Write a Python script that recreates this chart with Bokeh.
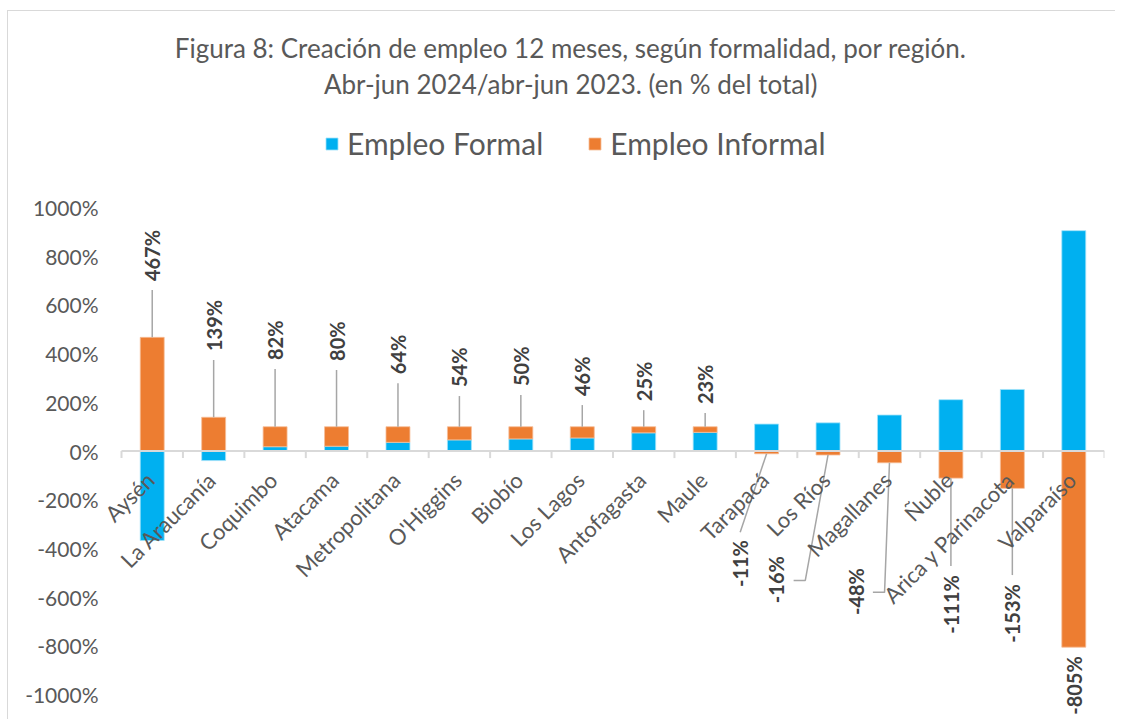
from bokeh.plotting import figure
from bokeh.models import (Range1d, FixedTicker, PrintfTickFormatter, Legend,
                          LegendItem, ColumnDataSource, Label, LabelSet, InlineStyleSheet)
from bokeh.embed import file_html
from bokeh.resources import INLINE
from bokeh.core.properties import value
import math

# ---------------- data ----------------
regions = ["Aysén", "La Araucanía", "Coquimbo", "Atacama", "Metropolitana", "O'Higgins",
           "Biobío", "Los Lagos", "Antofagasta", "Maule", "Tarapacá", "Los Ríos",
           "Magallanes", "Ñuble", "Arica y Parinacota", "Valparaíso"]
informal = [467, 139, 82, 80, 64, 54, 50, 46, 25, 23, -11, -16, -48, -111, -153, -805]
formal = [-367, -39, 18, 20, 36, 46, 50, 54, 75, 77, 111, 116, 148, 211, 253, 905]
y_ticks = [-1000, -800, -600, -400, -200, 0, 200, 400, 600, 800, 1000]

title1 = "Figura 8: Creación de empleo 12 meses, según formalidad, por región."
title2 = "Abr-jun 2024/abr-jun 2023. (en % del total)"

# data-label placement (near end of each label, in axis units) and leader style
label_y = [698, 411, 374, 370, 316, 263, 267, 226, 205, 193, -365, -431, -480, -509, -546, -842]
label_dx = [0, 0, 0, 0, 0, 0, 0, 0, 0, 0, -0.43, -0.84, -0.55, 0, 0, 0]
leader = ["v", "v", "v", "v", "v", "v", "v", "v", "v", "v", "s", "e", "e", "v", "v", "none"]

BLUE = "#00B0F0"
ORANGE = "#ED7D31"
TXT = "#595959"
LBL = "#404040"
FONT = "Lato"

n = len(regions)
xc = [i + 0.5 for i in range(n)]

# Excel-style stacking: positives up from 0, negatives down from 0
f_bot = [min(f, 0) for f in formal]
f_top = [max(f, 0) for f in formal]
i_bot, i_top = [], []
for f, v in zip(formal, informal):
    if v >= 0:
        b = max(f, 0)
        i_bot.append(b); i_top.append(b + v)
    else:
        t = min(f, 0)
        i_top.append(t); i_bot.append(t + v)

PX = 983 / n  # pixels per category
p = figure(width=1115, height=719, output_backend="svg", toolbar_location=None,
           x_range=Range1d(-21 / PX, n), y_range=Range1d(-1102, 1850),
           x_axis_location=None, min_border_left=100, min_border_right=11,
           min_border_top=0, min_border_bottom=0)
p.outline_line_color = None
p.grid.visible = False
p.background_fill_color = "white"
p.border_fill_color = "white"
p.stylesheets = [InlineStyleSheet(css=""":host::after { content: ""; position: absolute;
  left: 7px; top: 10px; right: 0; bottom: 0; border-left: 1.5px solid #D9D9D9;
  border-top: 1.5px solid #D9D9D9; pointer-events: none; }""")]

yax = p.yaxis[0]
yax.ticker = FixedTicker(ticks=y_ticks)
yax.formatter = PrintfTickFormatter(format="%d%%")
yax.axis_line_color = None
yax.major_tick_line_color = None
yax.minor_tick_line_color = None
yax.major_tick_in = 0
yax.major_tick_out = 0
yax.major_label_standoff = 2
yax.major_label_text_font = FONT
yax.major_label_text_font_size = "21px"
yax.major_label_text_color = TXT

src = ColumnDataSource(dict(x=xc, fb=f_bot, ft=f_top, ib=i_bot, it=i_top))
rf = p.vbar(x="x", bottom="fb", top="ft", width=0.39, source=src,
            fill_color=BLUE, line_color="#9FE2FA", line_width=0.8)
ri = p.vbar(x="x", bottom="ib", top="it", width=0.39, source=src,
            fill_color=ORANGE, line_color="#F6BE98", line_width=0.8)

# category axis line at 0 and boundary ticks
p.segment(x0=[0], x1=[n], y0=[0], y1=[0], line_color="#D9D9D9", line_width=2)
tick_len = 7 / 0.2435
p.segment(x0=list(range(n + 1)), x1=list(range(n + 1)), y0=[0] * (n + 1),
          y1=[-tick_len] * (n + 1), line_color="#D9D9D9", line_width=2)

# category labels, rotated 45 degrees
cat_src = ColumnDataSource(dict(x=xc, y=[0] * n, t=regions))
p.add_layout(LabelSet(x="x", y="y", text="t", source=cat_src, angle=math.pi / 4,
                      text_align="right", text_baseline="middle", x_offset=-2, y_offset=-25,
                      text_font=value(FONT), text_font_size=value("22px"), text_color=TXT))

# data labels and leader lines
gap = 37
LX, LY = [], []
pos_x, pos_y, pos_t = [], [], []
neg_x, neg_y, neg_t = [], [], []
for i in range(n):
    lx = xc[i] + label_dx[i]
    txt = f"{informal[i]}%"
    if informal[i] >= 0:
        pos_x.append(lx); pos_y.append(label_y[i]); pos_t.append(txt)
        if leader[i] == "v":
            LX.append([xc[i], lx]); LY.append([i_top[i], label_y[i] - gap])
    else:
        neg_x.append(lx); neg_y.append(label_y[i]); neg_t.append(txt)
        end = i_bot[i]
        if leader[i] == "v":
            LX.append([xc[i], lx]); LY.append([end, label_y[i] + gap])
        elif leader[i] == "s":
            LX.append([xc[i], lx]); LY.append([end, label_y[i] + 32])
        elif leader[i] == "e":
            mid = label_y[i] - 100
            LX.append([xc[i], lx + 0.47, lx + 0.28]); LY.append([end, mid, mid])

p.multi_line(xs=LX, ys=LY, line_color="#A6A6A6", line_width=1.5)
p.add_layout(LabelSet(x="x", y="y", text="t", source=ColumnDataSource(dict(x=pos_x, y=pos_y, t=pos_t)),
                      angle=math.pi / 2, text_align="left", text_baseline="middle",
                      text_font=value(FONT), text_font_style="bold", text_font_size=value("20px"),
                      text_color=LBL))
p.add_layout(LabelSet(x="x", y="y", text="t", source=ColumnDataSource(dict(x=neg_x, y=neg_y, t=neg_t)),
                      angle=math.pi / 2, text_align="right", text_baseline="middle",
                      text_font=value(FONT), text_font_style="bold", text_font_size=value("20px"),
                      text_color=LBL))

# title
p.add_layout(Label(x=7.31, y=1657, text=title1, text_align="center", text_baseline="middle",
                   text_font=FONT, text_font_size="26px", text_color=TXT))
p.add_layout(Label(x=7.31, y=1509, text=title2, text_align="center", text_baseline="middle",
                   text_font=FONT, text_font_size="26px", text_color=TXT))

# legend
legend = Legend(items=[LegendItem(label="Empleo Formal", renderers=[rf]),
                       LegendItem(label="Empleo Informal", renderers=[ri])],
                orientation="horizontal", location=(224, 558), padding=0, margin=0,
                spacing=44, glyph_width=15, glyph_height=15, label_standoff=8,
                label_text_font=FONT, label_text_font_size="30px", label_text_color=TXT,
                border_line_color=None, background_fill_alpha=0)
p.add_layout(legend, "center")

open("out.html", "w").write(file_html(p, INLINE))
